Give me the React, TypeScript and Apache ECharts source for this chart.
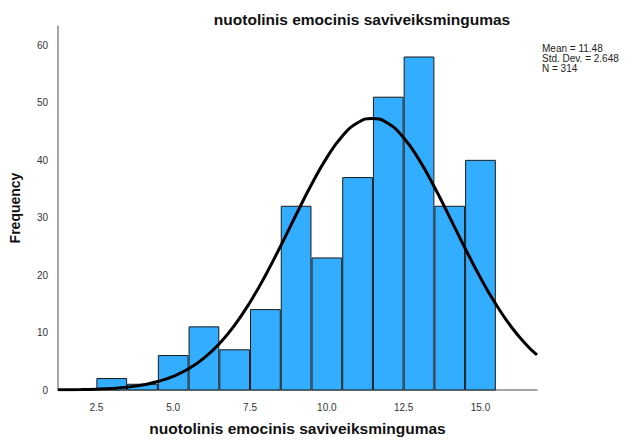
import React, { useEffect, useRef } from "react";
import * as echarts from "echarts";

const binCenters = [3, 4, 5, 6, 7, 8, 9, 10, 11, 12, 13, 14, 15];
const frequencies = [2, 1, 6, 11, 7, 14, 32, 23, 37, 51, 58, 32, 40];
const curveX = [1.25, 1.5, 2, 2.5, 3, 3.5, 4, 4.5, 5, 5.5, 6, 6.5, 7, 7.5, 8, 8.5, 9, 9.5, 10, 10.5, 11, 11.48, 12, 12.5, 13, 13.5, 14, 14.5, 15, 15.5, 16, 16.5, 16.84];
const curveY = [0.03, 0.04, 0.08, 0.15, 0.28, 0.5, 0.88, 1.47, 2.37, 3.69, 5.56, 8.07, 11.31, 15.29, 19.95, 25.12, 30.52, 35.78, 40.47, 44.18, 46.54, 47.31, 46.41, 43.93, 40.12, 35.36, 30.08, 24.69, 19.55, 14.95, 11.02, 7.85, 6.1];
const statsLines = ["Mean = 11.48", "Std. Dev. = 2.648", "N = 314"];
const titleText = "nuotolinis emocinis saviveiksmingumas";

export default function App() {
  const ref = useRef<HTMLDivElement>(null);
  useEffect(() => {
    if (!ref.current) return;
    const chart = echarts.init(ref.current, null, { renderer: "svg" });
    const font = "'Liberation Sans', Arial, Helvetica, sans-serif";
    chart.setOption({
      animation: false,
      textStyle: { fontFamily: font },
      title: {
        text: titleText,
        left: 357,
        textAlign: "center",
        top: 6,
        textStyle: { fontSize: 15.5, fontWeight: "bold", color: "#111", fontFamily: font },
      },
      grid: { left: 56, right: 101, top: 26, bottom: 50, containLabel: false },
      xAxis: {
        type: "value",
        min: 1.25,
        max: 16.84,
        interval: 1.25,
        name: titleText,
        nameLocation: "middle",
        nameGap: 30,
        nameTextStyle: { fontSize: 15.5, fontWeight: "bold", color: "#111", fontFamily: font },
        axisLine: { show: true, lineStyle: { color: "#888", width: 1.5 } },
        axisTick: { show: false },
        splitLine: { show: false },
        axisLabel: {
          color: "#333",
          fontSize: 10,
          margin: 12,
          showMinLabel: false,
          showMaxLabel: false,
          formatter: (v: number) => (Math.abs(v / 2.5 - Math.round(v / 2.5)) < 1e-6 ? v.toFixed(1) : ""),
        },
      },
      yAxis: {
        type: "value",
        min: 0,
        max: 63.4,
        interval: 10,
        name: "Frequency",
        nameLocation: "middle",
        nameGap: 36,
        nameTextStyle: { fontSize: 14, fontWeight: "bold", color: "#111", fontFamily: font },
        axisLine: { show: true, lineStyle: { color: "#888", width: 1.5 } },
        axisTick: { show: false },
        splitLine: { show: false },
        axisLabel: {
          color: "#333",
          fontSize: 10,
          margin: 10,
          formatter: (v: number) => (v % 10 === 0 ? String(v) : ""),
        },
      },
      graphic: [
        {
          type: "text",
          left: 542,
          top: 43,
          style: {
            text: statsLines.join("\n"),
            fontSize: 10,
            lineHeight: 10,
            fill: "#222",
            fontFamily: font,
          },
        },
      ],
      series: [
        {
          type: "custom",
          data: binCenters.map((c, i) => [c, frequencies[i]]),
          renderItem: (params: any, api: any) => {
            const c = api.value(0);
            const v = api.value(1);
            const p0 = api.coord([c - 0.5, v]);
            const p1 = api.coord([c + 0.5, 0]);
            return {
              type: "rect",
              shape: { x: p0[0] + 0.5, y: p0[1], width: p1[0] - p0[0] - 1, height: p1[1] - p0[1] },
              style: { fill: "#33adff", stroke: "#1a1a1a", lineWidth: 1 },
            };
          },
          z: 2,
        },
        {
          type: "line",
          data: curveX.map((x, i) => [x, curveY[i]]),
          smooth: true,
          showSymbol: false,
          lineStyle: { color: "#000", width: 3 },
          z: 3,
        },
      ],
    });
    return () => chart.dispose();
  }, []);
  return <div ref={ref} style={{ position: "absolute", left: 0, top: 0, width: 638, height: 441 }} />;
}
